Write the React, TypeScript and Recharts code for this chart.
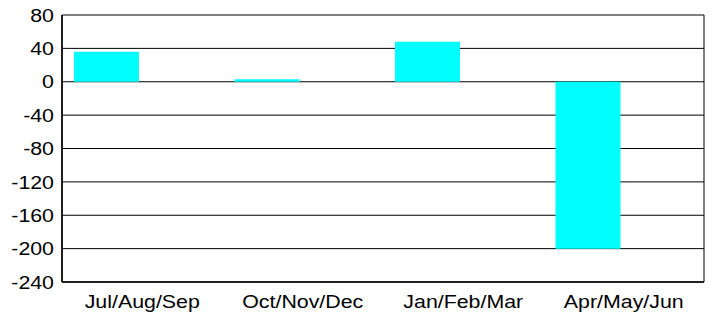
import { BarChart, Bar, XAxis, YAxis, CartesianGrid } from 'recharts';

const quarters = ['Jul/Aug/Sep', 'Oct/Nov/Dec', 'Jan/Feb/Mar', 'Apr/May/Jun'];
const values = [36, 3, 48, -200];
// second series is empty in the source, it only reserves the slot on the right
const emptySeries = [0, 0, 0, 0];
const yTicks = [-240, -200, -160, -120, -80, -40, 0, 40, 80];

const data = quarters.map((q, i) => ({ quarter: q, value: values[i], empty: emptySeries[i] }));

const FONT = '"Liberation Sans", Arial, sans-serif';
const STRETCH = 1.155;

const YTick = ({ x, y, payload }: any) => (
  <text
    transform={`translate(${x},${y}) scale(${STRETCH},1)`}
    textAnchor="end"
    dy="0.36em"
    fontSize={18.5}
    fontFamily={FONT}
    fill="#000"
  >
    {payload.value}
  </text>
);

const XTick = ({ x, y, payload }: any) => (
  <text
    transform={`translate(${x},${y}) scale(${STRETCH},1)`}
    textAnchor="middle"
    dy={16}
    fontSize={18.5}
    fontFamily={FONT}
    fill="#000"
  >
    {payload.value}
  </text>
);

export default function App() {
  return (
    <div style={{ position: 'fixed', left: 0, top: 0, background: '#fff' }}>
      <BarChart
        width={714}
        height={313}
        data={data}
        margin={{ top: 15, right: 10, left: 0, bottom: 0 }}
        barCategoryGap={12}
        barGap={6}
      >
        <CartesianGrid
          stroke="#000"
          strokeOpacity={1}
          verticalCoordinatesGenerator={({ offset }: any) => [offset.left, offset.left + offset.width]}
        />
        <XAxis
          dataKey="quarter"
          height={31}
          tickSize={0}
          tickMargin={10}
          tick={<XTick />}
          axisLine={{ stroke: '#000', strokeWidth: 1.5 }}
          interval={0}
        />
        <YAxis
          domain={[-240, 80]}
          ticks={yTicks}
          width={62}
          tickSize={0}
          tickMargin={8}
          tick={<YTick />}
          axisLine={{ stroke: '#000', strokeWidth: 1.5 }}
          interval={0}
        />
        <Bar dataKey="value" fill="#00ffff" isAnimationActive={false} />
        <Bar dataKey="empty" fill="transparent" isAnimationActive={false} />
      </BarChart>
    </div>
  );
}
